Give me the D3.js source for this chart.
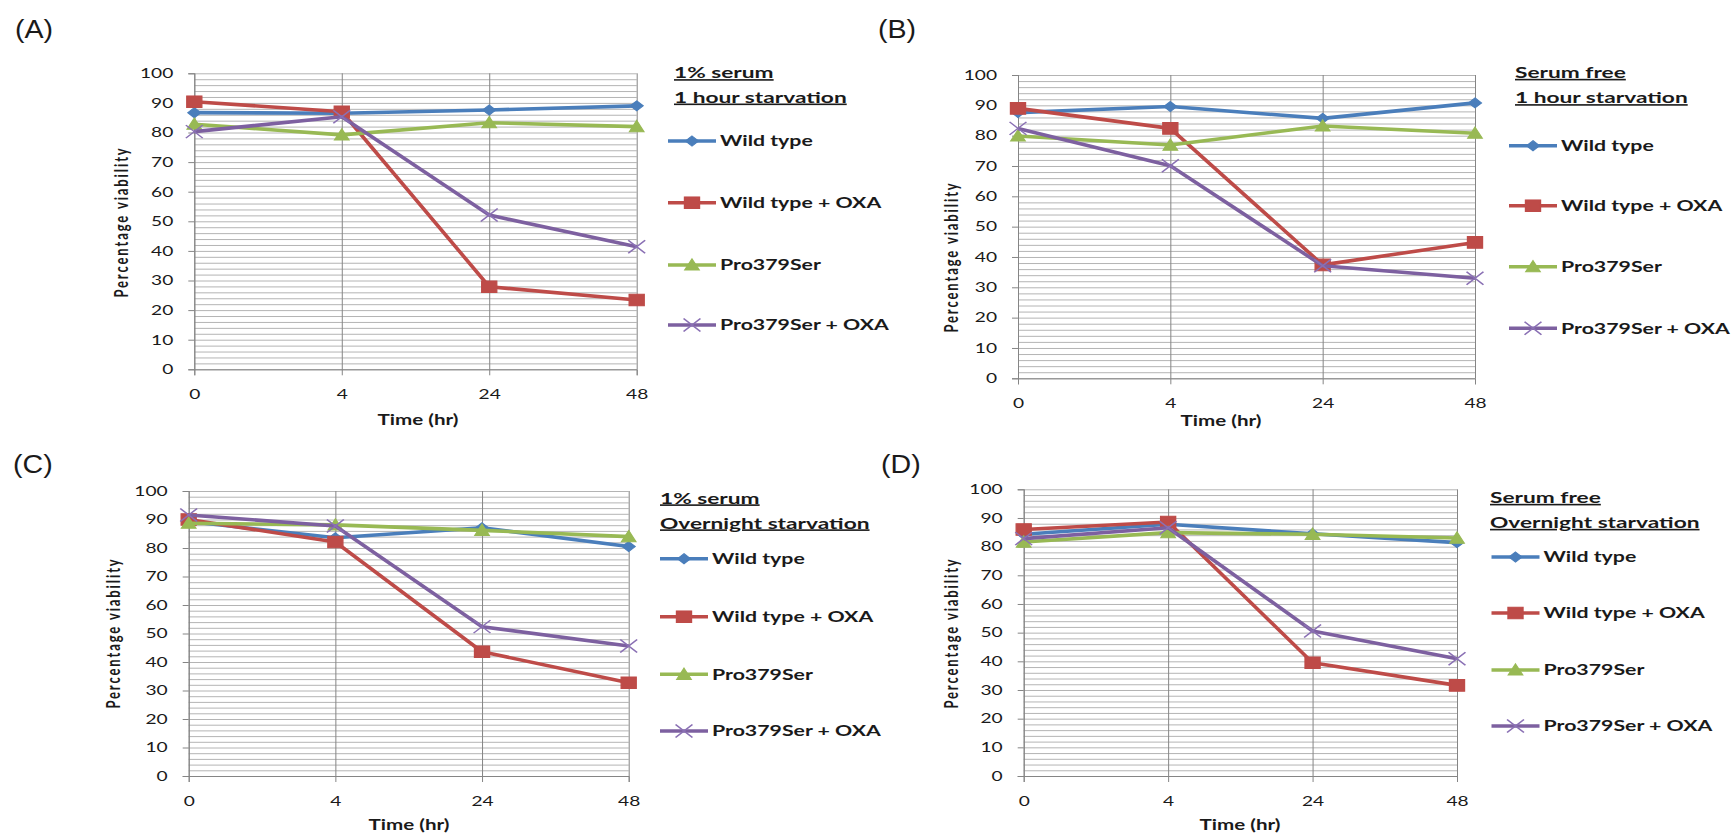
<!DOCTYPE html>
<html>
<head>
<meta charset="utf-8">
<script src="https://cdn.jsdelivr.net/npm/d3@7"></script>
<style>
	body { margin: 0; background: #fff; }
	svg text { font-family: Lato, "Open Sans", sans-serif; fill: #1a1a1a; }
</style>
</head>
<body>
<div id="chart-area"></div>
<script>

// SVG Size
var width = 1734,
	height = 836;

// the picture is stretched sideways, so text and markers get this x scale
var sx = 1.42;

// Data
var timeLabels = ["0", "4", "24", "48"];
var seriesNames = ["Wild type", "Wild type + OXA", "Pro379Ser", "Pro379Ser + OXA"];
var panelLetters = ["(A)", "(B)", "(C)", "(D)"];
var legendTitles = [
	["1% serum", "1 hour starvation"],
	["Serum free", "1 hour starvation"],
	["1% serum", "Overnight starvation"],
	["Serum free", "Overnight starvation"]
];
var yTicks = [0, 10, 20, 30, 40, 50, 60, 70, 80, 90, 100];
var yGrid = d3.range(0, 101, 2);

// one row per series: wild type, wild type + OXA, Pro379Ser, Pro379Ser + OXA
var viabilityA = [
	[86.7, 86.5, 87.6, 89.0],
	[90.4, 87.0, 27.9, 23.4],
	[82.8, 79.2, 83.3, 82.0],
	[80.3, 85.3, 52.1, 41.4]
];
var viabilityB = [
	[87.6, 89.6, 85.7, 90.8],
	[89.0, 82.4, 37.4, 44.8],
	[79.9, 76.9, 83.2, 80.8],
	[82.4, 70.1, 37.1, 33.0]
];
var viabilityC = [
	[89.3, 83.6, 87.1, 80.5],
	[90.0, 82.1, 43.6, 32.7],
	[88.7, 88.1, 86.2, 84.0],
	[91.6, 87.7, 52.4, 45.6]
];
var viabilityD = [
	[84.3, 87.8, 84.5, 81.4],
	[86.0, 88.6, 39.5, 31.6],
	[81.6, 84.9, 84.3, 83.0],
	[82.8, 86.6, 50.6, 40.9]
];
var panelData = [viabilityA, viabilityB, viabilityC, viabilityD];

var colors = ["#4a7ebb", "#be4b48", "#98b954", "#7d60a0"];
var markers = ["diamond", "square", "triangle", "cross"];

// where each panel sits on the page
var layout = [
	{ lx: 15, ly: 38, x0: 194.3, x1: 636.7, yTop: 73.3, yBot: 369.3, xTitleX: 418, xTitleY: 425,
	  yTitleX: 122, yTitleY: 222, legX: 668, legTitleX: 674, legTitleY: [78.3, 102.7], legY: [141, 202.7, 265, 325] },
	{ lx: 878, ly: 38, x0: 1018, x1: 1475, yTop: 75, yBot: 378.3, xTitleX: 1221, xTitleY: 426,
	  yTitleX: 952, yTitleY: 257, legX: 1509, legTitleX: 1515, legTitleY: [78, 103.3], legY: [145.7, 205.7, 266.7, 328.3] },
	{ lx: 13, ly: 473, x0: 188.7, x1: 628.7, yTop: 491, yBot: 776, xTitleX: 409, xTitleY: 830,
	  yTitleX: 114, yTitleY: 633, legX: 660, legTitleX: 660, legTitleY: [503.5, 528.5], legY: [558.7, 616.7, 674.3, 731] },
	{ lx: 881, ly: 473, x0: 1023.7, x1: 1457, yTop: 489.3, yBot: 776, xTitleX: 1240, xTitleY: 830,
	  yTitleX: 952, yTitleY: 633, legX: 1491.5, legTitleX: 1490, legTitleY: [503, 528], legY: [557, 613, 670, 726] }
];

var svg = d3.select("#chart-area")
		.append("svg")
		.attr("width", width)
		.attr("height", height);

function stretch(x, y, k) {
	return "translate(" + x + "," + y + ") scale(" + (k || sx) + ",1)";
}

// excel style markers, drawn square and then stretched by the transform
function markerPath(type) {
	var p = d3.path();
	if (type == "diamond") {
		var r = 5;
		p.moveTo(0, -r); p.lineTo(r, 0); p.lineTo(0, r); p.lineTo(-r, 0); p.closePath();
	} else if (type == "square") {
		var r = 5.8;
		p.rect(-r, -r, 2 * r, 2 * r);
	} else if (type == "triangle") {
		var r = 5.6;
		p.moveTo(0, -r - 0.5); p.lineTo(r, r - 0.5); p.lineTo(-r, r - 0.5); p.closePath();
	} else {
		var r = 6.5;
		p.moveTo(-r, -r); p.lineTo(r, r); p.moveTo(r, -r); p.lineTo(-r, r);
	}
	return p.toString();
}

function drawMarker(g, k, x, y) {
	var m = g.append("path")
			.attr("d", markerPath(markers[k]))
			.attr("transform", "translate(" + x + "," + y + ") scale(1.3,1)");
	if (markers[k] == "cross") {
		m.attr("fill", "none").attr("stroke", "#8a70b4").attr("stroke-width", 1.3);
	} else {
		m.attr("fill", colors[k]).attr("stroke", colors[k]).attr("stroke-width", 1);
	}
}

layout.forEach(function(p, i) {

	var g = svg.append("g");
	var data = panelData[i];

	var xScale = d3.scalePoint()
			.domain(timeLabels)
			.range([p.x0, p.x1]);

	var yScale = d3.scaleLinear()
			.domain([0, 100])
			.range([p.yBot, p.yTop]);

	// horizontal grid, every 2 %
	var hGrid = g.append("g")
			.attr("transform", "translate(" + p.x0 + ",0)")
			.call(d3.axisLeft(yScale).tickValues(yGrid).tickSize(-(p.x1 - p.x0)).tickFormat(""));
	hGrid.select(".domain").remove();
	hGrid.selectAll("line").attr("stroke", "#b4b4b4");

	// vertical grid at each time
	var vGrid = g.append("g")
			.attr("transform", "translate(0," + p.yBot + ")")
			.call(d3.axisBottom(xScale).tickSize(-(p.yBot - p.yTop)).tickFormat(""));
	vGrid.select(".domain").remove();
	vGrid.selectAll("line").attr("stroke", "#858585");

	// axes
	var yAxis = g.append("g")
			.attr("transform", "translate(" + p.x0 + ",0)")
			.call(d3.axisLeft(yScale).tickValues(yTicks).tickSize(6));
	yAxis.select(".domain").attr("stroke", "#858585");
	yAxis.selectAll("line").attr("stroke", "#858585");
	yAxis.selectAll("text")
			.attr("x", 0)
			.attr("transform", stretch(-21, 0))
			.style("font-size", "13.5px")
			.attr("fill", "#222");

	var xAxis = g.append("g")
			.attr("transform", "translate(0," + p.yBot + ")")
			.call(d3.axisBottom(xScale).tickSize(6));
	xAxis.select(".domain").attr("stroke", "#858585");
	xAxis.selectAll("line").attr("stroke", "#858585");
	xAxis.selectAll("text")
			.attr("y", 0)
			.attr("dy", "0.35em")
			.attr("transform", stretch(0, 25))
			.style("font-size", "13.5px")
			.attr("fill", "#222");

	// series lines and markers
	var line = d3.line()
			.x(function(d, j) { return xScale(timeLabels[j]); })
			.y(function(d) { return yScale(d); });

	data.forEach(function(values, k) {
		g.append("path")
				.datum(values)
				.attr("fill", "none")
				.attr("stroke", colors[k])
				.attr("stroke-width", 3.6)
				.attr("stroke-linejoin", "round")
				.attr("d", line);
		values.forEach(function(v, j) {
			drawMarker(g, k, xScale(timeLabels[j]), yScale(v));
		});
	});

	// axis names
	g.append("text").text("Time (hr)")
			.attr("text-anchor", "middle")
			.attr("transform", stretch(p.xTitleX, p.xTitleY))
			.style("font-size", "14.5px")
			.style("font-weight", "bold");
	g.append("text").text("Percentage viability")
			.attr("text-anchor", "middle")
			.attr("dy", "0.35em")
			.attr("transform", stretch(p.yTitleX, p.yTitleY) + " rotate(-90)")
			.style("font-size", "13px")
			.style("letter-spacing", "1.9px")
			.style("font-weight", "bold");

	// panel letter
	g.append("text").text(panelLetters[i])
			.attr("transform", stretch(p.lx, p.ly, 1.1))
			.style("font-family", "'Liberation Sans', Arial, sans-serif")
			.style("font-size", "26px")
			.attr("fill", "#000");

	// legend title
	legendTitles[i].forEach(function(t, j) {
		g.append("text").text(t)
				.attr("transform", stretch(p.legTitleX, p.legTitleY[j]))
				.style("font-size", "16px")
				.style("font-weight", "bold")
				.style("text-decoration", "underline");
	});

	// legend entries
	seriesNames.forEach(function(name, k) {
		var ly = p.legY[k];
		g.append("line")
				.attr("x1", p.legX).attr("x2", p.legX + 48)
				.attr("y1", ly).attr("y2", ly)
				.attr("stroke", colors[k])
				.attr("stroke-width", 3.4);
		drawMarker(g, k, p.legX + 24, ly);
		g.append("text").text(name)
				.attr("dy", "0.35em")
				.attr("transform", stretch(p.legX + 52, ly))
				.style("font-size", "15px")
				.style("font-weight", "bold");
	});
});

</script>
</body>
</html>
